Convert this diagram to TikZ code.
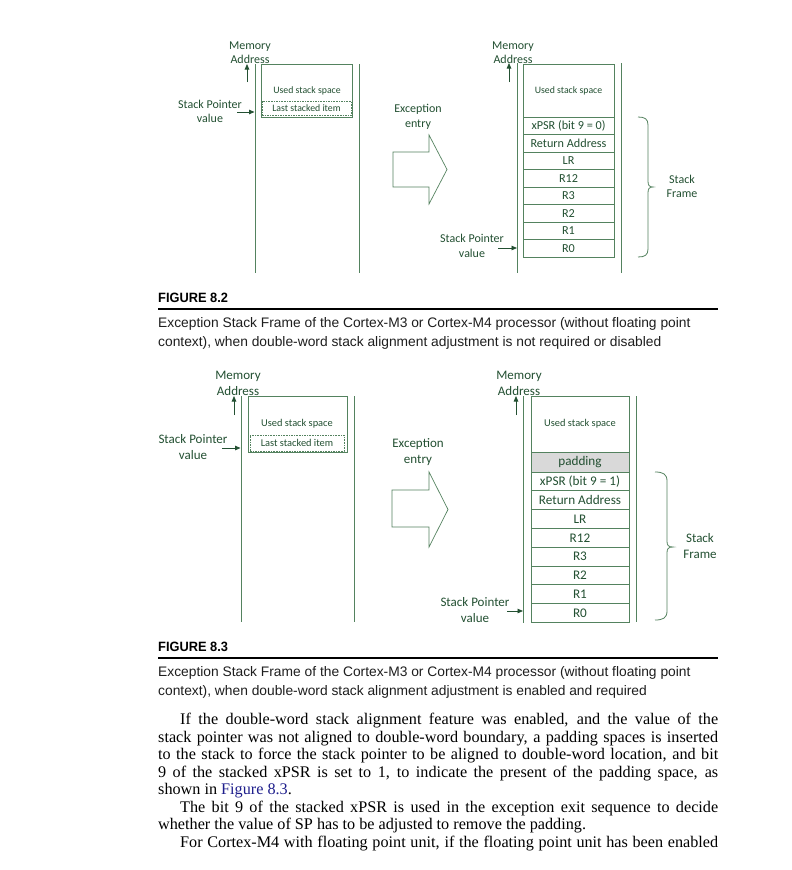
\documentclass[tikz,border=0pt]{standalone}
\usepackage{fontspec}
\setmainfont{Liberation Serif}
\newfontfamily\diagfont{Carlito}
\newfontfamily\capfont{Liberation Sans}
\usetikzlibrary{arrows.meta}
\definecolor{gline}{RGB}{84,130,95}
\definecolor{gtext}{RGB}{35,80,50}
\definecolor{linkblue}{RGB}{30,30,140}
\definecolor{padgray}{RGB}{217,217,217}
\definecolor{captext}{RGB}{30,30,30}
\begin{document}
\begin{tikzpicture}[x=1pt,y=-1pt,
  gl/.style={draw=gline, line width=0.8pt},
  arr/.style={draw=gtext, line width=0.8pt, -{Triangle[length=5.5pt,width=4.5pt]}},
  lblA/.style={font=\diagfont\fontsize{12}{14.5}\selectfont, text=gtext, align=center, inner sep=0pt},
  lblB/.style={font=\diagfont\fontsize{13}{16}\selectfont, text=gtext, align=center, inner sep=0pt},
  smallA/.style={font=\diagfont\fontsize{9.8}{12}\selectfont, text=gtext, inner sep=0pt},
  smallB/.style={font=\diagfont\fontsize{10.4}{12}\selectfont, text=gtext, inner sep=0pt},
  usedbox/.style={draw=gline, line width=0.8pt, inner sep=0pt},
  lastbox/.style={draw=gline, line width=0.6pt, dash pattern=on 1.6pt off 1pt, inner sep=0pt},
  rowA/.style={draw=gline, line width=0.8pt, inner sep=0pt, minimum width=91pt, minimum height=17.5pt, font=\diagfont\fontsize{12.2}{14}\selectfont, text=gtext},
  rowB/.style={draw=gline, line width=0.8pt, inner sep=0pt, minimum width=98pt, minimum height=18.8pt, font=\diagfont\fontsize{13.2}{15}\selectfont, text=gtext},
  bigarrow/.style={draw=gline, line width=0.7pt},
  bracestyle/.style={draw=gline, line width=0.8pt},
  fighead/.style={font=\capfont\bfseries\fontsize{13.5}{15}\selectfont, anchor=base west, inner sep=0pt},
  capline/.style={font=\capfont\fontsize{13.8}{16}\selectfont, text=captext, anchor=base west, inner sep=0pt},
  bodyline/.style={font=\fontsize{16.2}{17.6}\selectfont, anchor=base west, inner sep=0pt}
]
\useasboundingbox[fill=white] (0,0) rectangle (792,870);

% ================= FIGURE 8.2 =================
% left panel
\node[lblA] (ma1) at (250,52.5) {Memory\\Address};
\coordinate (ma1a) at (247,82); \coordinate (ma1b) at (247,64);
\draw[arr] (ma1a) -- (ma1b);
\draw[gl] (255,64) -- (255,273);
\draw[gl] (359,64) -- (359,273);
\node[usedbox, minimum width=90.5pt, minimum height=53pt] (us1) at (306.75,90.5) {};
\node[smallA] (us1t) at (307,91) {Used stack space};
\node[lastbox, minimum width=89pt, minimum height=14.5pt, smallA] (ls1) at (306.5,108.5) {Last stacked item};
\node[lblA] (sp1) at (210,111.5) {Stack Pointer\\value};
\coordinate (sp1a) at (237,112); \coordinate (sp1b) at (254.5,112);
\draw[arr] (sp1a) -- (sp1b);

% exception entry
\node[lblA] (ex1) at (418,117) {Exception\\entry};
\draw[bigarrow] (393,152) -- (429,152) -- (429,135) -- (447,169.5) -- (429,204) -- (429,187) -- (393,187) -- cycle;

% right panel
\node[lblA] (ma2) at (513,52.5) {Memory\\Address};
\coordinate (ma2a) at (509,82); \coordinate (ma2b) at (509,63);
\draw[arr] (ma2a) -- (ma2b);
\draw[gl] (517,63) -- (517,273);
\draw[gl] (621,63) -- (621,273);
\node[usedbox, minimum width=91pt, minimum height=53pt] (us2) at (568.5,90.5) {};
\node[smallA] (us2t) at (568.5,91) {Used stack space};
\foreach \t [count=\i from 0] in {{xPSR (bit 9 = 0)},{Return Address},{LR},{R12},{R3},{R2},{R1},{R0}} {
  \node[rowA] (ra\i) at (568.5,{125.75+17.5*\i}) {\t};
}
\node[lblA] (sp2) at (472,246) {Stack Pointer\\value};
\coordinate (sp2a) at (498,248); \coordinate (sp2b) at (517,248);
\draw[arr] (sp2a) -- (sp2b);
\coordinate (br1a) at (638,117); \coordinate (br1m) at (653,187); \coordinate (br1b) at (638,257);
\draw[bracestyle] (br1a) .. controls (645,117) and (648,119) .. (648,125) -- (648,181)
  .. controls (648,185) and (649,187) .. (br1m)
  .. controls (649,187) and (648,189) .. (648,193) -- (648,249)
  .. controls (648,255) and (645,257) .. (br1b);
\node[lblA] (sf1) at (682,186.5) {Stack\\Frame};

% caption 8.2
\node[fighead] (fh1) at (158,302) {\scalebox{0.95}[1]{FIGURE 8.2}};
\coordinate (rl1a) at (158,309); \coordinate (rl1b) at (718,309);
\draw[line width=1.3pt] (rl1a) -- (rl1b);
\node[capline] (c1a) at (158,327.5) {Exception Stack Frame of the Cortex-M3 or Cortex-M4 processor (without floating point};
\node[capline] (c1b) at (158,346.5) {context), when double-word stack alignment adjustment is not required or disabled};

% ================= FIGURE 8.3 =================
% left panel
\node[lblB] (ma3) at (238,383.5) {Memory\\Address};
\coordinate (ma3a) at (234,415); \coordinate (ma3b) at (234,396);
\draw[arr] (ma3a) -- (ma3b);
\draw[gl] (241,396) -- (241,622);
\draw[gl] (354,396) -- (354,622);
\node[usedbox, minimum width=99pt, minimum height=56pt] (us3) at (297.5,424) {};
\node[smallB] (us3t) at (297,424) {Used stack space};
\node[lastbox, minimum width=94pt, minimum height=16pt, smallB] (ls3) at (297,443) {Last stacked item};
\node[lblB] (sp3) at (193,447) {Stack Pointer\\value};
\coordinate (sp3a) at (222,448); \coordinate (sp3b) at (240.5,448);
\draw[arr] (sp3a) -- (sp3b);

% exception entry
\node[lblB] (ex2) at (418,452.5) {Exception\\entry};
\draw[bigarrow] (392,490) -- (429,490) -- (429,472) -- (448,509.5) -- (429,547) -- (429,527) -- (392,527) -- cycle;

% right panel
\node[lblB] (ma4) at (519,383.5) {Memory\\Address};
\coordinate (ma4a) at (516,415); \coordinate (ma4b) at (516,396);
\draw[arr] (ma4a) -- (ma4b);
\draw[gl] (523,396) -- (523,623);
\draw[gl] (636,396) -- (636,622);
\node[usedbox, minimum width=98pt, minimum height=56pt] (us4) at (580,424) {};
\node[smallB] (us4t) at (580,424) {Used stack space};
\node[rowB, fill=padgray, minimum height=20pt] (pad) at (580,462) {padding};
\foreach \t [count=\i from 0] in {{xPSR (bit 9 = 1)},{Return Address},{LR},{R12},{R3},{R2},{R1},{R0}} {
  \node[rowB] (rb\i) at (580,{481.4+18.8*\i}) {\t};
}
\node[lblB] (sp4) at (475,610.5) {Stack Pointer\\value};
\coordinate (sp4a) at (507,611); \coordinate (sp4b) at (523,611);
\draw[arr] (sp4a) -- (sp4b);
\coordinate (br2a) at (655,472); \coordinate (br2m) at (673,547); \coordinate (br2b) at (655,620);
\draw[bracestyle] (br2a) .. controls (663,472) and (667,474) .. (667,481) -- (667,541)
  .. controls (667,545) and (668,547) .. (br2m)
  .. controls (668,547) and (667,549) .. (667,553) -- (667,611)
  .. controls (667,618) and (663,620) .. (br2b);
\node[lblB] (sf2) at (700,546) {Stack\\Frame};

% caption 8.3
\node[fighead] (fh2) at (158,651) {\scalebox{0.95}[1]{FIGURE 8.3}};
\coordinate (rl2a) at (158,658); \coordinate (rl2b) at (718,658);
\draw[line width=1.3pt] (rl2a) -- (rl2b);
\node[capline] (c2a) at (158,676.5) {Exception Stack Frame of the Cortex-M3 or Cortex-M4 processor (without floating point};
\node[capline] (c2b) at (158,695.5) {context), when double-word stack alignment adjustment is enabled and required};

% ================= body text =================
\node[bodyline] (b1) at (180,724.5) {\makebox[538pt][s]{If the double-word stack alignment feature was enabled, and the value of the}};
\node[bodyline] (b2) at (158,742) {\makebox[560pt][s]{stack pointer was not aligned to double-word boundary, a padding spaces is inserted}};
\node[bodyline] (b3) at (158,759.5) {\makebox[560pt][s]{to the stack to force the stack pointer to be aligned to double-word location, and bit}};
\node[bodyline] (b4) at (158,777) {\makebox[560pt][s]{9 of the stacked xPSR is set to 1, to indicate the present of the padding space, as}};
\node[bodyline] (b5) at (158,794.5) {shown in \textcolor{linkblue}{Figure 8.3}.};
\node[bodyline] (b6) at (180,812) {\makebox[538pt][s]{The bit 9 of the stacked xPSR is used in the exception exit sequence to decide}};
\node[bodyline] (b7) at (158,829.5) {whether the value of SP has to be adjusted to remove the padding.};
\node[bodyline] (b8) at (180,847) {\makebox[538pt][s]{For Cortex-M4 with floating point unit, if the floating point unit has been enabled}};
\end{tikzpicture}
\end{document}
